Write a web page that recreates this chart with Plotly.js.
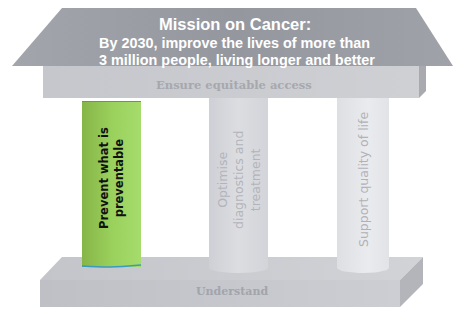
<!DOCTYPE html>
<html><head><meta charset="utf-8">
<script src="https://cdn.plot.ly/plotly-3.0.1.min.js"></script>
<style>html,body{margin:0;padding:0;background:#fff}#c{width:459px;height:314px}</style>
</head><body><div id="c"></div>
<script>
// Text content of the diagram
const roofTitle = "Mission on Cancer:";
const roofLines = ["By 2030, improve the lives of more than", "3 million people, living longer and better"];
const beamLabel = "Ensure equitable access";
const baseLabel = "Understand";
const pillarLabels = ["Prevent what is<br>preventable", "Optimise<br>diagnostics and<br>treatment", "Support quality of life"];

function poly(xs, ys, fill, grad, line) {
  const t = {x: xs.concat([xs[0]]), y: ys.concat([ys[0]]), mode: 'lines', fill: 'toself',
    line: line || {width: 0, color: 'rgba(0,0,0,0)'}, fillcolor: fill, hoverinfo: 'skip', showlegend: false};
  if (grad) t.fillgradient = {type: 'horizontal', colorscale: grad};
  return t;
}
function cyl(x0, x1, y0, y1, grad) {
  const xs = [x0, x1], ys = [y0, y0];
  const cx = (x0 + x1) / 2, rx = (x1 - x0) / 2, ry = 5;
  for (let i = 0; i <= 20; i++) { const a = i / 20 * Math.PI; xs.push(cx + rx * Math.cos(a)); ys.push(y1 + ry * Math.sin(a)); }
  return poly(xs, ys, '#ddd', grad);
}
const traces = [];
// base
traces.push(poly([40, 62, 423, 400], [280, 257, 257, 280], '#c9cacf', [[0,'#c4c5ca'],[1,'#d2d3d7']]));
traces.push(poly([40, 400, 400, 40], [280, 280, 307, 307], '#c6c7cc', [[0,'#bfc0c6'],[1,'#cdced3']]));
traces.push(poly([400, 423, 423, 400], [280, 257, 284, 307], '#b4b5bb'));
// pillars
traces.push(cyl(209, 268, 96, 268, [[0,'#cfd0d5'],[0.5,'#dcdde1'],[1,'#d3d4d9']]));
traces.push(cyl(337, 389, 96, 268, [[0,'#dedfe3'],[0.6,'#eaebee'],[1,'#e2e3e6']]));
traces.push(poly([82, 141, 141, 82], [101, 101, 267, 267], '#9ccc5c', [[0,'#86b548'],[0.5,'#9ad05c'],[1,'#a6dc6c']]));
traces.push({x: [82, 141], y: [101.5, 101.5], mode: 'lines', line: {color: '#3a9ac0', width: 1}, hoverinfo: 'skip', showlegend: false});
traces.push({x: [82, 110, 141], y: [266, 267, 265], mode: 'lines', line: {color: '#3a9ac0', width: 1.5, shape: 'spline'}, hoverinfo: 'skip', showlegend: false});
// beam
traces.push(poly([43, 419, 419, 43], [64, 64, 98, 98], '#c9cacf', [[0,'#c6c7cc'],[1,'#cfd0d4']]));
traces.push(poly([419, 426, 426, 419], [64, 64, 91, 98], '#a9aab0'));
// roof
traces.push(poly([62, 416, 453, 12], [8, 8, 66, 66], '#9a9ca4', [[0,'#a3a5ac'],[0.5,'#95979f'],[1,'#a0a2a9']]));

const ann = [];
ann.push({x: 235, y: 24, text: '<b>' + roofTitle + '</b>', font: {family: 'Liberation Sans, Arial', size: 16.5, color: '#ffffff'}});
ann.push({x: 234, y: 43, text: '<b>' + roofLines[0] + '</b>', font: {family: 'Liberation Sans, Arial', size: 14.4, color: '#ffffff'}});
ann.push({x: 237, y: 60, text: '<b>' + roofLines[1] + '</b>', font: {family: 'Liberation Sans, Arial', size: 14.4, color: '#ffffff'}});
ann.push({x: 234, y: 85, text: '<b>' + beamLabel + '</b>', font: {family: 'DejaVu Serif', size: 11.5, color: '#a6a8ae'}});
ann.push({x: 232, y: 291, text: '<b>' + baseLabel + '</b>', font: {family: 'DejaVu Serif', size: 11, color: '#a2a4ab'}});
ann.push({x: 111, y: 178, text: '<b>' + pillarLabels[0] + '</b>', textangle: -90, font: {family: 'DejaVu Sans', size: 11.5, color: '#111'}});
ann.push({x: 239, y: 180, text: pillarLabels[1], textangle: -90, font: {family: 'DejaVu Sans', size: 12.5, color: '#b2b4ba'}});
ann.push({x: 363, y: 180, text: pillarLabels[2], textangle: -90, font: {family: 'DejaVu Sans', size: 12.5, color: '#b0b2b8'}});
ann.forEach(a => { a.xref = 'x'; a.yref = 'y'; a.showarrow = false; });

Plotly.newPlot('c', traces, {
  width: 459, height: 314, margin: {l: 0, r: 0, t: 0, b: 0},
  paper_bgcolor: '#fff', plot_bgcolor: '#fff',
  xaxis: {range: [0, 459], visible: false, fixedrange: true},
  yaxis: {range: [314, 0], visible: false, fixedrange: true},
  annotations: ann, showlegend: false
}, {staticPlot: true});
</script></body></html>
